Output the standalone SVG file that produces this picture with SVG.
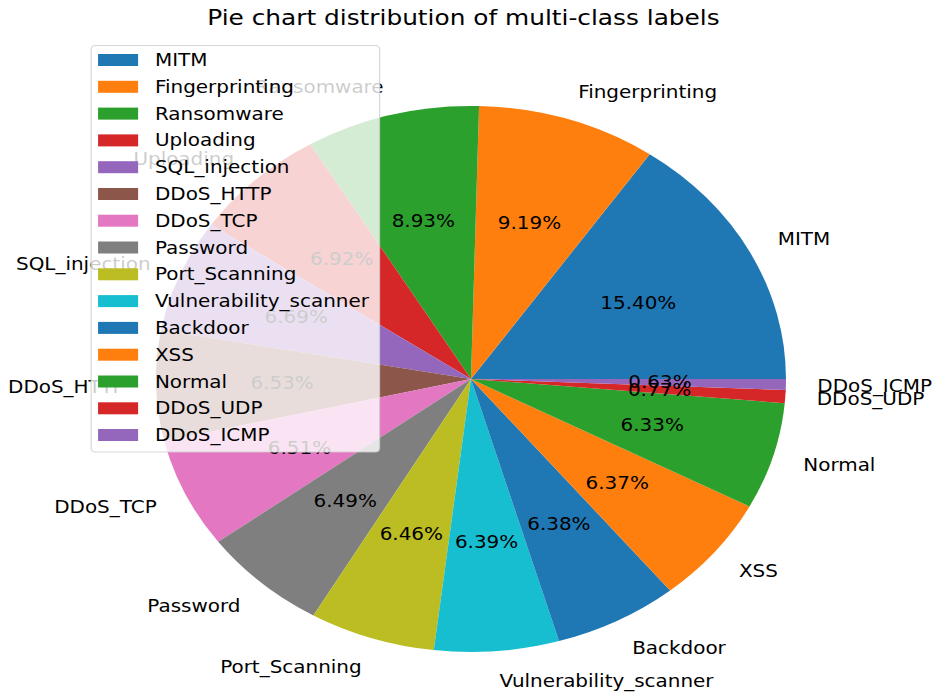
<svg xmlns="http://www.w3.org/2000/svg" width="933" height="694" viewBox="0 0 933 694">
<style>
text{font-family:"DejaVu Sans","Liberation Sans",sans-serif;fill:#000}
.t{font-size:21.5px;text-anchor:middle}
.l{font-size:17.3px;dominant-baseline:central}
.s{text-anchor:start}.e{text-anchor:end}
.p{font-size:17.3px;text-anchor:middle;dominant-baseline:central}
.g{font-size:17.3px;dominant-baseline:central}
</style>
<rect width="933" height="694" fill="#fff"/>
<g transform="scale(1.1538 1)">
<text class="t" x="401.7" y="25">Pie chart distribution of multi-class labels</text>
<g id="wedges">
<path id="w-mitm" fill="#1f77b4" d="M408.2 379L681.2 379A273 273 0 0 0 563.1 154.2Z"/>
<path id="w-fingerprinting" fill="#ff7f0e" d="M408.2 379L563.1 154.2A273 273 0 0 0 415.2 106.1Z"/>
<path id="w-ransomware" fill="#2ca02c" d="M408.2 379L415.2 106.1A273 273 0 0 0 268.9 144.2Z"/>
<path id="w-uploading" fill="#d62728" d="M408.2 379L268.9 144.2A273 273 0 0 0 183.0 224.7Z"/>
<path id="w-sql" fill="#9467bd" d="M408.2 379L183.0 224.7A273 273 0 0 0 139.6 330.0Z"/>
<path id="w-ddos-http" fill="#8c564b" d="M408.2 379L139.6 330.0A273 273 0 0 0 142.4 441.2Z"/>
<path id="w-ddos-tcp" fill="#e377c2" d="M408.2 379L142.4 441.2A273 273 0 0 0 189.1 541.8Z"/>
<path id="w-password" fill="#7f7f7f" d="M408.2 379L189.1 541.8A273 273 0 0 0 271.6 615.4Z"/>
<path id="w-port" fill="#bcbd22" d="M408.2 379L271.6 615.4A273 273 0 0 0 376.0 650.1Z"/>
<path id="w-vuln" fill="#17becf" d="M408.2 379L376.0 650.1A273 273 0 0 0 484.5 641.1Z"/>
<path id="w-backdoor" fill="#1f77b4" d="M408.2 379L484.5 641.1A273 273 0 0 0 580.8 590.5Z"/>
<path id="w-xss" fill="#ff7f0e" d="M408.2 379L580.8 590.5A273 273 0 0 0 649.6 506.6Z"/>
<path id="w-normal" fill="#2ca02c" d="M408.2 379L649.6 506.6A273 273 0 0 0 680.1 403.2Z"/>
<path id="w-ddos-udp" fill="#d62728" d="M408.2 379L680.1 403.2A273 273 0 0 0 681.0 390.0Z"/>
<path id="w-ddos-icmp" fill="#9467bd" d="M408.2 379L681.0 390.0A273 273 0 0 0 681.2 379Z"/>
</g>
<g id="labels">
<text class="l s" x="674.1" y="238.8">MITM</text>
<text class="l s" x="501.1" y="91.6">Fingerprinting</text>
<text class="l e" x="332.5" y="86.6">Ransomware</text>
<text class="l e" x="202.9" y="158.5">Uploading</text>
<text class="l e" x="130.5" y="264.3">SQL_injection</text>
<text class="l e" x="108.0" y="387">DDoS_HTTP</text>
<text class="l e" x="135.8" y="506.9">DDoS_TCP</text>
<text class="l e" x="208.4" y="605.5">Password</text>
<text class="l e" x="313.4" y="666.8">Port_Scanning</text>
<text class="l s" x="433.0" y="681.2">Vulnerability_scanner</text>
<text class="l s" x="547.9" y="647.5">Backdoor</text>
<text class="l s" x="640.4" y="571.4">XSS</text>
<text class="l s" x="696.2" y="465.3">Normal</text>
<text class="l s" x="707.9" y="399">DDoS_UDP</text>
<text class="l s" x="708.4" y="385.5">DDoS_ICMP</text>
</g>
<g id="percents">
<text class="p" x="553.2" y="302.8">15.40%</text>
<text class="p" x="458.9" y="223.2">9.19%</text>
<text class="p" x="366.9" y="220.5">8.93%</text>
<text class="p" x="296.2" y="259.4">6.92%</text>
<text class="p" x="256.7" y="316.7">6.69%</text>
<text class="p" x="244.5" y="383.1">6.53%</text>
<text class="p" x="259.6" y="447.9">6.51%</text>
<text class="p" x="299.2" y="501.3">6.49%</text>
<text class="p" x="356.5" y="534.4">6.46%</text>
<text class="p" x="421.7" y="542.2">6.39%</text>
<text class="p" x="484.4" y="524.0">6.38%</text>
<text class="p" x="534.9" y="482.8">6.37%</text>
<text class="p" x="565.3" y="425.4">6.33%</text>
<text class="p" x="571.7" y="389.5">0.77%</text>
<text class="p" x="572.0" y="382.3">0.63%</text>
</g>
<g id="legend">
<rect x="79" y="45.5" width="250" height="406.5" rx="3.5" ry="4" fill="#fff" fill-opacity="0.8" stroke="#ccc" stroke-opacity="0.8" stroke-width="1"/>
<g id="legend-patches">
<rect x="85" y="54" width="34.7" height="12" fill="#1f77b4"/>
<rect x="85" y="80.8" width="34.7" height="12" fill="#ff7f0e"/>
<rect x="85" y="107.6" width="34.7" height="12" fill="#2ca02c"/>
<rect x="85" y="134.4" width="34.7" height="12" fill="#d62728"/>
<rect x="85" y="161.2" width="34.7" height="12" fill="#9467bd"/>
<rect x="85" y="188" width="34.7" height="12" fill="#8c564b"/>
<rect x="85" y="214.7" width="34.7" height="12" fill="#e377c2"/>
<rect x="85" y="241.5" width="34.7" height="12" fill="#7f7f7f"/>
<rect x="85" y="268.3" width="34.7" height="12" fill="#bcbd22"/>
<rect x="85" y="295.1" width="34.7" height="12" fill="#17becf"/>
<rect x="85" y="321.9" width="34.7" height="12" fill="#1f77b4"/>
<rect x="85" y="348.7" width="34.7" height="12" fill="#ff7f0e"/>
<rect x="85" y="375.5" width="34.7" height="12" fill="#2ca02c"/>
<rect x="85" y="402.3" width="34.7" height="12" fill="#d62728"/>
<rect x="85" y="429" width="34.7" height="12" fill="#9467bd"/>
</g>
<g id="legend-texts">
<text class="g" x="134.3" y="60">MITM</text>
<text class="g" x="134.3" y="86.8">Fingerprinting</text>
<text class="g" x="134.3" y="113.6">Ransomware</text>
<text class="g" x="134.3" y="140.4">Uploading</text>
<text class="g" x="134.3" y="167.2">SQL_injection</text>
<text class="g" x="134.3" y="194">DDoS_HTTP</text>
<text class="g" x="134.3" y="220.7">DDoS_TCP</text>
<text class="g" x="134.3" y="247.5">Password</text>
<text class="g" x="134.3" y="274.3">Port_Scanning</text>
<text class="g" x="134.3" y="301.1">Vulnerability_scanner</text>
<text class="g" x="134.3" y="327.9">Backdoor</text>
<text class="g" x="134.3" y="354.7">XSS</text>
<text class="g" x="134.3" y="381.5">Normal</text>
<text class="g" x="134.3" y="408.3">DDoS_UDP</text>
<text class="g" x="134.3" y="435">DDoS_ICMP</text>
</g>
</g>
</g>
</svg>
